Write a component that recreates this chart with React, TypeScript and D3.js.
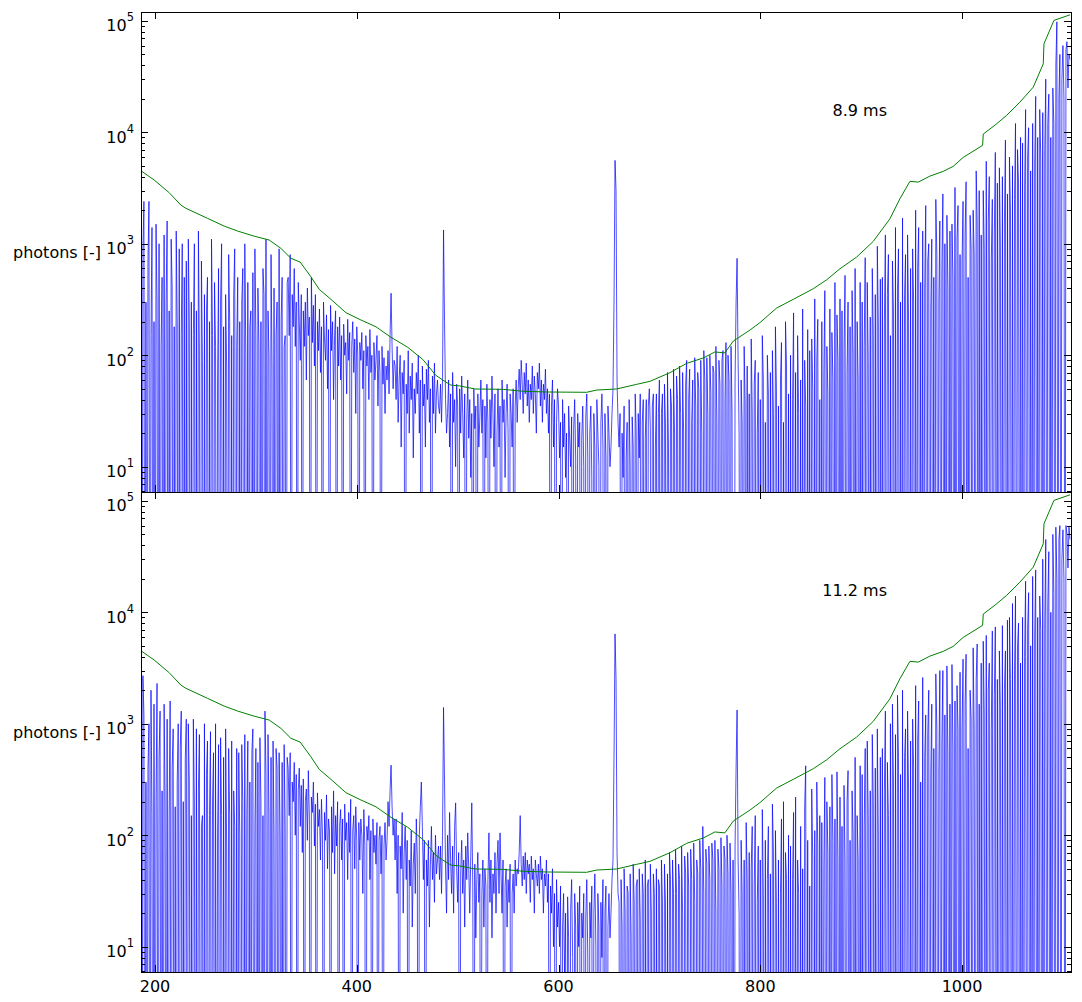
import React, { useEffect, useRef } from "react";
import * as d3 from "d3";

// wavelength axis (nm) and log photon axis limits
const xDomain = [186.1, 1108];
const yDomain = [5.93, 1.2e5];
const xTicks = [200, 400, 600, 800, 1000];
const yExps = [1, 2, 3, 4, 5];
const panelLabels = ["8.9 ms", "11.2 ms"];

// threshold curve (green), same for both exposures
const threshWl = [
  186, 199.2, 214.1, 225.7, 230.6, 252.1, 268.6, 281.9, 298.3, 313.2, 324.8,
  334.7, 343.9, 354.5, 362.8, 376, 389.2, 404.1, 419, 433.8, 450.4, 465.3,
  478.4, 485.1, 493.3, 502.2, 517.1, 545.2, 565, 588.2, 627.8, 637.8, 657.6,
  677.4, 690.6, 710.4, 727, 743.4, 755, 764.9, 773.2, 789.7, 799.6, 816.2,
  832.6, 852.5, 865.8, 879, 895.5, 912, 928.5, 938.4, 948.3, 956.6, 968.2,
  981.3, 991.2, 1001.2, 1020.4, 1021, 1034.3, 1044.2, 1057.4, 1070.6, 1080.5,
  1081.2, 1091.1, 1107,
];
const threshVal = [
  4520, 3730, 2870, 2220, 2080, 1690, 1440, 1300, 1170, 1080, 909, 740, 685,
  506, 390, 308, 241, 207, 180, 145, 118, 92, 66, 60, 54, 53, 49.8, 49.4, 47.5,
  46.8, 46.5, 48.7, 49.8, 54.8, 58.3, 69.7, 84.6, 94.4, 107, 105, 134, 168, 196,
  265, 317, 395, 475, 597, 760, 1051, 1676, 2533, 3630, 3575, 4047, 4460, 4945,
  5956, 7634, 9640, 11920, 14180, 18660, 25430, 41130, 62230, 100900, 113200,
];

// spectrum, 8.9 ms exposure (each array starts at the nm in its name)
const t186 = [
  400, 0, 900, 2400, 0, 300, 0, 700, 2400, 0, 150, 1400, 0, 200, 0, 1500, 300, 0, 1000, 0, 120, 500, 0, 1200, 0,
  300, 1600, 0, 250, 0, 1100, 400, 0, 180, 0, 1300, 200, 0, 900, 0, 150, 1000, 0, 500, 0, 700,
];
const t232 = [
  0, 1100, 200, 0, 300, 0, 150, 1000, 0, 250, 0, 1300, 100, 0, 700, 90, 0, 350, 0, 250,
  500, 0, 200, 0, 1100, 150, 0, 450, 120, 0, 60, 600, 0, 300, 1000, 0, 180, 0, 350, 80,
  0, 800, 200, 0, 150, 0, 350, 900, 0, 120, 500, 0, 200, 0, 300, 600, 0, 1000, 100, 0,
  450, 0, 180, 250, 0, 550, 0, 900, 150, 0, 400, 120, 0, 200, 0, 600, 350, 0, 1100, 0,
  250, 100, 0, 800, 80, 0, 400, 0, 150, 300, 0, 900, 0, 200, 500, 0, 120, 150, 0, 450,
];
const t332 = [
  500, 150, 800, 0, 350, 180, 600, 120, 300, 0, 450, 200, 90, 350, 0, 250, 120, 300, 60, 400,
  150, 220, 0, 500, 130, 280, 80, 350, 0, 200, 110, 260, 70, 180, 0, 300, 140, 90, 230, 50,
  170, 0, 280, 110, 200, 40, 150, 250, 0, 180, 80, 220, 60, 150, 0, 190, 100, 130, 45, 210,
  90, 160, 0, 120, 200, 70, 140, 30, 180, 100, 0, 130, 90, 160, 50, 110, 0, 150, 80, 120,
  40, 170, 70, 100, 0, 130, 60, 90, 150, 35, 110, 70, 0, 120, 55, 95, 30, 80,
];
const t430 = [60, 110, 45, 150, 360, 120, 50, 90];
const t438 = [
  80, 40, 120, 25, 60, 100, 15, 70, 45, 90, 0, 55, 30, 110, 20, 65, 40, 85, 12, 50,
  30, 70, 45, 100, 20, 60, 0, 80, 35, 55, 15, 75, 40, 90, 25, 50, 0, 65, 30, 85, 20, 45, 60, 35,
];
const t482 = [30, 55, 25, 60, 1330, 200, 40, 20];
const t490 = [
  30, 60, 15, 45, 0, 70, 25, 40, 10, 55, 35, 0, 50, 20, 65, 30, 12, 45, 0, 25,
  60, 18, 40, 8, 30, 0, 50, 22, 35, 0, 45, 15, 28, 60, 20, 40, 0, 35, 12, 55,
  25, 0, 40, 18, 65, 30, 10, 45, 0, 20, 50, 15, 35, 0, 60, 25, 40, 8, 30, 55,
  20, 0, 45, 30, 15, 50, 0, 35, 60, 25, 50, 75, 40, 90, 55, 30, 70, 45, 85, 35,
  60, 25, 55, 40, 80, 30, 65, 45, 20, 70, 50, 85, 35, 60, 25, 55, 40, 75, 30, 50,
  20, 45, 0, 35, 60, 15, 40, 0, 25, 50, 35, 12, 25, 0, 40, 15, 30, 8, 20, 0,
  35, 18, 10, 28, 0, 22, 40, 12, 0, 30, 15, 25, 0, 18, 35, 10, 0, 28, 45, 12,
  0, 20, 35, 8, 0, 30, 15, 0, 40, 20, 10, 0, 25, 45, 15, 0, 30, 12, 0, 35, 20, 10,
];
const t652 = [15, 30, 50, 300, 5600, 3000, 60, 25];
const t660 = [
  15, 30, 0, 20, 8, 35, 0, 12, 25, 0, 40, 10, 0, 28, 15, 0, 45, 20, 0, 30,
  12, 45, 0, 25, 40, 0, 18, 40, 0, 35, 50, 22, 0, 35, 45, 0, 15, 45, 0, 30,
  60, 0, 30, 45, 0, 55, 25, 0, 70, 15, 0, 50, 35, 0, 75, 20, 0, 65, 40, 0,
  80, 30, 0, 70, 20, 0, 55, 90, 0, 40, 75, 0, 25, 60, 0, 95, 35, 0, 70, 50,
  0, 90, 20, 0, 110, 60, 0, 95, 30, 0, 100, 45, 0, 80, 70, 0, 120, 25, 0, 90,
  55, 0, 90, 110, 0, 40, 130, 0, 100, 60, 0, 120, 30, 0,
];
const t774 = [0, 60, 300, 740, 90, 20];
const t780 = [
  0, 60, 25, 0, 120, 35, 0, 80, 0, 45, 0, 140, 30, 0, 55, 90, 0, 20, 70, 0,
  40, 0, 150, 60, 0, 25, 0, 100, 45, 0, 70, 0, 110, 30, 0, 180, 50, 0, 35, 0,
  60, 130, 0, 25, 0, 200, 80, 0, 45, 0, 100, 0, 40, 240, 0, 70, 0, 150, 30, 0,
  60, 0, 260, 0, 90, 35, 0, 170, 0, 110, 0, 140, 50, 0, 320, 0, 90, 210, 0, 40,
  0, 200, 0, 70, 380, 0, 120, 45, 0, 260, 0, 160, 60, 0, 450, 0, 230, 90, 0, 320,
  0, 250, 0, 110, 520, 0, 70, 300, 0, 180, 0, 380, 100, 0, 600, 0, 200, 60, 0, 450,
  0, 300, 0, 120, 750, 0, 450, 90, 0, 220, 0, 600, 150, 0, 350, 0, 950, 200, 0, 480,
  0, 500, 0, 200, 1200, 0, 350, 800, 0, 150, 0, 700, 250, 0, 1400, 0, 400, 900, 0, 300,
  0, 1700, 0, 350, 800, 0, 1200, 200, 0, 600, 0, 900, 300, 0, 2000, 0, 600, 1400, 0, 450,
  0, 1300, 0, 400, 2200, 0, 700, 1000, 0, 250, 1100, 0, 500, 0, 2500, 800, 0, 300, 1600, 0,
  600, 2800, 0, 1000, 0, 1800, 400, 0, 1300, 0, 1500, 500, 0, 3200, 0, 1100, 2200, 0, 800, 0,
  700, 2400, 0, 1200, 3600, 0, 500, 0, 1800, 900, 0, 2000, 800, 0, 4500, 1500, 0, 3000, 0, 1200,
  0, 3000, 900, 0, 5500, 0, 1600, 4000, 0, 700, 2500, 0, 1200, 6600, 0, 3500, 0, 4800, 1000, 0,
  4000, 0, 1500, 8500, 0, 2800, 0, 6000, 2000, 0, 5000, 0, 2500, 12000, 0, 7000, 3500, 0, 9000, 0,
  8000, 0, 3000, 16000, 0, 6000, 11000, 0, 4500, 0, 12000, 0, 5000, 21000, 0, 9000, 0, 16000, 6000, 0,
  15000, 0, 7000, 30000, 0, 12000, 22000, 0, 9000, 0, 25000, 12000, 0, 40000, 98000, 0, 20000, 50000, 0, 30000,
  60000, 20000, 0, 55000, 65000, 25000, 50000, 45000,
];

// spectrum, 11.2 ms exposure
const b186 = [
  600, 0, 2700, 1200, 0, 300, 0, 400, 1000, 0, 2000, 150, 0, 1500, 0, 200, 2300, 0, 500, 1300,
  0, 250, 0, 1500, 200, 0, 1100, 0, 150, 1600, 0, 400, 900, 0, 180, 0, 300, 1000, 0, 600,
  1300, 0, 200, 0, 500, 1100,
];
const b232 = [
  0, 1000, 300, 0, 150, 0, 1100, 200, 0, 900, 0, 250, 800, 0, 120, 150, 0, 1000, 0, 350,
  700, 0, 150, 850, 0, 200, 550, 0, 1000, 0, 100, 650, 0, 750, 150, 0, 500, 0, 900, 80,
  0, 600, 150, 0, 700, 0, 250, 120, 0, 600, 0, 550, 100, 0, 650, 200, 0, 800, 0, 150,
  700, 0, 300, 0, 550, 900, 0, 120, 600, 0, 450, 0, 750, 200, 0, 150, 0, 1300, 350, 0,
  800, 150, 0, 500, 0, 700, 100, 0, 600, 400, 0, 550, 100, 0, 450, 0, 650, 120, 0, 500,
];
const b332 = [
  400, 150, 550, 0, 300, 200, 450, 100, 350, 0, 250, 400, 120, 280, 70, 320, 0, 200, 260, 90,
  380, 140, 0, 220, 160, 300, 80, 190, 0, 240, 120, 170, 60, 210, 100, 0, 160, 90, 230, 50,
  140, 110, 0, 180, 70, 250, 45, 150, 80, 200, 0, 120, 170, 60, 140, 0, 190, 90, 130, 40,
  160, 70, 210, 0, 110, 150, 50, 180, 90, 0, 130, 60, 140, 100, 30, 170, 80, 0, 120, 90,
  150, 40, 110, 0, 140, 70, 100, 55, 130, 0, 90, 120, 45, 100, 0, 80, 130, 60,
];
const b430 = [90, 200, 120, 250, 425, 180, 100, 140];
const b438 = [
  60, 140, 30, 100, 0, 80, 50, 160, 20, 70, 120, 40, 90, 0, 60, 35, 110, 15, 55, 85,
  30, 140, 60, 0, 100, 180, 300, 120, 40, 90, 0, 60, 35, 90, 15, 55, 120, 40, 70, 25, 100, 45, 60, 80,
];
const b482 = [40, 80, 30, 100, 1400, 300, 50, 20];
const b490 = [
  100, 40, 160, 60, 30, 80, 20, 120, 195, 50, 25, 70, 0, 45, 90, 30, 60, 15, 80, 40,
  105, 50, 20, 65, 195, 35, 0, 55, 12, 40, 70, 25, 45, 0, 30, 60, 15, 50, 35, 0,
  40, 105, 25, 60, 12, 45, 30, 70, 20, 55, 90, 30, 105, 45, 20, 60, 0, 35, 50, 15,
  40, 25, 55, 0, 30, 45, 20, 60, 35, 50, 45, 70, 150, 55, 35, 65, 40, 70, 30, 60,
  45, 55, 25, 65, 40, 50, 20, 60, 45, 35, 55, 30, 65, 40, 50, 20, 45, 35, 60, 25,
  45, 0, 35, 20, 50, 10, 30, 0, 40, 15, 25, 10, 35, 0, 15, 30, 5, 20, 0, 28,
  12, 0, 22, 40, 8, 0, 30, 15, 0, 25, 10, 35, 0, 20, 12, 30, 0, 18, 40, 8,
  0, 25, 12, 35, 0, 20, 45, 10, 0, 30, 15, 0, 25, 8, 40, 0, 20, 35, 0, 15, 30, 12,
];
const b652 = [20, 40, 60, 500, 6400, 2500, 70, 30];
const b660 = [
  25, 0, 40, 15, 0, 50, 20, 0, 35, 30, 0, 45, 12, 0, 55, 25, 0, 35, 40, 0,
  50, 18, 0, 45, 30, 0, 60, 0, 35, 40, 0, 55, 20, 0, 45, 30, 0, 50, 0, 40,
  35, 0, 60, 25, 0, 55, 25, 0, 45, 0, 70, 40, 0, 60, 30, 0, 75, 30, 0, 55,
  40, 0, 80, 20, 0, 65, 45, 0, 70, 35, 0, 75, 40, 0, 85, 25, 0, 60, 45, 0,
  90, 50, 0, 120, 30, 0, 75, 55, 0, 80, 40, 0, 85, 60, 0, 90, 20, 0, 75, 50,
  0, 95, 35, 0, 80, 60, 0, 100, 45, 0, 85, 30, 0, 60,
];
const b774 = [0, 80, 400, 1330, 60, 20];
const b780 = [
  0, 90, 30, 0, 60, 0, 130, 40, 0, 70, 0, 50, 120, 0, 35, 150, 0, 25, 80, 0,
  60, 0, 170, 30, 0, 90, 0, 40, 120, 0, 45, 0, 190, 70, 0, 110, 25, 0, 60, 0,
  30, 140, 0, 200, 0, 70, 40, 0, 100, 0, 80, 0, 40, 160, 0, 220, 0, 60, 30, 0,
  120, 0, 50, 0, 180, 420, 0, 90, 0, 35, 0, 260, 60, 0, 110, 0, 300, 80, 0, 150,
  0, 130, 0, 50, 330, 0, 200, 70, 0, 180, 0, 350, 90, 0, 140, 0, 370, 60, 0, 220,
  0, 120, 0, 280, 60, 0, 200, 380, 0, 90, 0, 250, 100, 0, 500, 0, 150, 60, 0, 420,
  0, 350, 0, 120, 600, 0, 700, 150, 0, 250, 0, 800, 200, 0, 400, 0, 900, 100, 0, 500,
  0, 600, 0, 250, 1300, 0, 450, 150, 0, 1000, 0, 1500, 300, 0, 800, 0, 1800, 500, 0, 350,
  0, 2000, 0, 500, 900, 0, 1300, 250, 0, 700, 0, 1100, 400, 0, 2200, 0, 700, 1600, 0, 300,
  0, 2600, 0, 500, 1200, 0, 800, 2000, 0, 350, 1500, 0, 600, 0, 2800, 900, 0, 400, 3000, 0,
  700, 3000, 0, 1200, 0, 3300, 500, 0, 1500, 0, 3400, 600, 0, 1600, 0, 2200, 900, 0, 2900, 0,
  900, 3800, 0, 1500, 4200, 0, 600, 0, 2000, 1100, 0, 4800, 900, 0, 2500, 5200, 0, 1500, 0, 3500,
  0, 5500, 1200, 0, 6200, 0, 2000, 3500, 0, 900, 6800, 0, 1800, 7400, 0, 2500, 0, 4500, 1400, 0,
  7600, 0, 2000, 4500, 0, 8500, 0, 9000, 2500, 0, 12000, 0, 3000, 14000, 0, 5000, 8000, 0, 3500, 0,
  9000, 0, 4000, 19000, 0, 7000, 15000, 0, 5000, 0, 21000, 0, 6000, 24000, 0, 9000, 0, 14000, 7000, 0,
  30000, 0, 8000, 45000, 0, 12000, 35000, 0, 10000, 0, 50000, 15000, 0, 58000, 20000, 0, 45000, 60000, 0, 30000,
  55000, 20000, 0, 60000, 50000, 25000, 58000, 45000,
];

const segStarts = [186, 232, 332, 430, 438, 482, 490, 652, 660, 774, 780, 1108];
const spectra = [
  [t186, t232, t332, t430, t438, t482, t490, t652, t660, t774, t780],
  [b186, b232, b332, b430, b438, b482, b490, b652, b660, b774, b780],
];

// spread each segment's samples evenly up to the next segment start
const toPoints = (segs) =>
  segs.flatMap((vals, k) => {
    const s = segStarts[k];
    const step = (segStarts[k + 1] - s) / vals.length;
    return vals.map((v, j) => ({ wl: s + j * step, v }));
  });

const App = () => {
  const ref = useRef(null);

  useEffect(() => {
    const svg = d3.select(ref.current);
    svg.selectAll("*").remove();

    const left = 141;
    const right = 1071;
    const font = "DejaVu Sans, sans-serif";
    const x = d3.scaleLinear().domain(xDomain).range([left, right]);

    spectra.forEach((segs, p) => {
      const top = 12 + p * 480;
      const bottom = top + 480;
      const y = d3.scaleLog().domain(yDomain).range([bottom, top]);
      const g = svg.append("g");

      g.append("clipPath")
        .attr("id", `clip${p}`)
        .append("rect")
        .attr("x", left)
        .attr("y", top)
        .attr("width", right - left)
        .attr("height", bottom - top);

      const plot = g.append("g").attr("clip-path", `url(#clip${p})`);

      const spec = d3
        .line()
        .x((d) => x(d.wl))
        .y((d) => (d.v > 0 ? y(d.v) : bottom + 400));

      plot
        .append("path")
        .datum(toPoints(segs))
        .attr("d", spec)
        .attr("fill", "none")
        .attr("stroke", "#0000ff")
        .attr("stroke-width", 0.7);

      const thresh = d3
        .line()
        .x((d, i) => x(threshWl[i]))
        .y((d) => y(d));

      plot
        .append("path")
        .datum(threshVal)
        .attr("d", thresh)
        .attr("fill", "none")
        .attr("stroke", "#008000")
        .attr("stroke-width", 1);

      // frame
      g.append("rect")
        .attr("x", left + 0.5)
        .attr("y", top + 0.5)
        .attr("width", right - left)
        .attr("height", bottom - top)
        .attr("fill", "none")
        .attr("stroke", "#000")
        .attr("stroke-width", 1);

      const tickG = g
        .append("g")
        .attr("stroke", "#000")
        .attr("stroke-width", 1)
        .attr("shape-rendering", "crispEdges");

      // x ticks, inward on top and bottom spines
      xTicks.forEach((t) => {
        const px = Math.round(x(t)) + 0.5;
        tickG.append("line").attr("x1", px).attr("x2", px).attr("y1", top).attr("y2", top + 7);
        tickG.append("line").attr("x1", px).attr("x2", px).attr("y1", bottom).attr("y2", bottom - 7);
      });

      // y major + minor ticks, inward on left and right spines
      const minor = [];
      for (let e = 0; e <= 5; e++) {
        for (let m = 2; m <= 9; m++) {
          const v = m * Math.pow(10, e);
          if (v >= yDomain[0] && v <= yDomain[1]) minor.push(v);
        }
      }
      const yTick = (v, len) => {
        const py = Math.round(y(v)) + 0.5;
        tickG.append("line").attr("x1", left).attr("x2", left + len).attr("y1", py).attr("y2", py);
        tickG.append("line").attr("x1", right).attr("x2", right - len).attr("y1", py).attr("y2", py);
      };
      yExps.forEach((e) => yTick(Math.pow(10, e), 7));
      minor.forEach((v) => yTick(v, 4));

      // y tick labels 10^n
      yExps.forEach((e) => {
        const t = g
          .append("text")
          .attr("x", 134)
          .attr("y", y(Math.pow(10, e)) + 10.5)
          .attr("text-anchor", "end")
          .attr("font-family", font)
          .attr("font-size", 16)
          .attr("fill", "#000");
        t.append("tspan").text("10");
        t.append("tspan").attr("dy", -10).attr("font-size", 11.5).text(e);
      });

      g.append("text")
        .attr("x", 101)
        .attr("y", (top + bottom) / 2 + 5.5)
        .attr("text-anchor", "end")
        .attr("font-family", font)
        .attr("font-size", 16)
        .attr("fill", "#000")
        .text("photons [-]");

      g.append("text")
        .attr("x", 887)
        .attr("y", top + 104)
        .attr("text-anchor", "end")
        .attr("font-family", font)
        .attr("font-size", 16)
        .attr("fill", "#000")
        .text(panelLabels[p]);

      if (p === 1) {
        xTicks.forEach((t) => {
          g.append("text")
            .attr("x", x(t))
            .attr("y", bottom + 20)
            .attr("text-anchor", "middle")
            .attr("font-family", font)
            .attr("font-size", 16)
            .attr("fill", "#000")
            .text(t);
        });
      }
    });
  }, []);

  return (
    <div style={{ position: "absolute", left: 0, top: 0 }}>
      <svg ref={ref} width={1082} height={1002} style={{ display: "block" }}></svg>
    </div>
  );
};

export default App;
